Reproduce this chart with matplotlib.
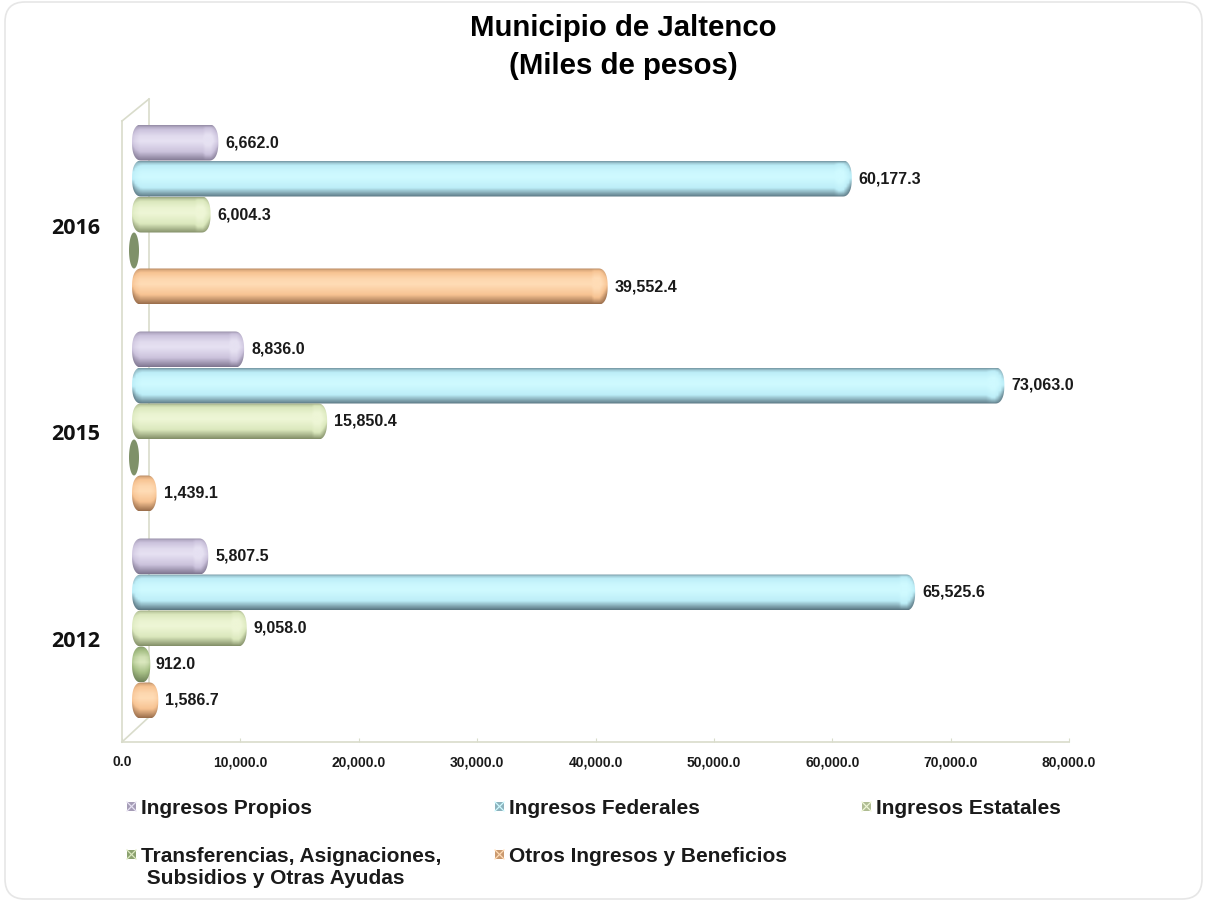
import numpy as np
import matplotlib
matplotlib.use('Agg')
import matplotlib.pyplot as plt
from matplotlib.patches import FancyBboxPatch, PathPatch, Rectangle
from matplotlib.path import Path
from matplotlib.lines import Line2D
from matplotlib.transforms import Affine2D

years = ['2012', '2015', '2016']
series_names = ['Ingresos Propios', 'Ingresos Federales', 'Ingresos Estatales',
                'Transferencias, Asignaciones,\n Subsidios y Otras Ayudas',
                'Otros Ingresos y Beneficios']
propios = [5807.5, 8836.0, 6662.0]
federales = [65525.6, 73063.0, 60177.3]
estatales = [9058.0, 15850.4, 6004.3]
transferencias = [912.0, 0.0, 0.0]
otros = [1586.7, 1439.1, 39552.4]
all_series = [propios, federales, estatales, transferencias, otros]
x_ticks = [0, 10000, 20000, 30000, 40000, 50000, 60000, 70000, 80000]

# light / mid / dark tone of each series
tones = [('#e6e1f2', '#cbc2dc', '#7f7690'),
         ('#cffaff', '#bdeef8', '#5a7682'),
         ('#eef6d6', '#dbe8bd', '#838f68'),
         ('#dbe8bf', '#a6bf85', '#6f8259'),
         ('#ffdcb6', '#f7c392', '#9a6e4c')]
flat_zero = '#7f9169'

W, H = 1208, 903
fig = plt.figure(figsize=(W / 100, H / 100), dpi=100)
fig.patch.set_facecolor('white')
plt.rcParams['font.family'] = ['Liberation Sans', 'DejaVu Sans']

# pixel coordinates, origin top left
px = Affine2D().scale(1 / W, -1 / H).translate(0, 1) + fig.transFigure

# rounded card behind everything
card = FancyBboxPatch((5, 3), W - 11, H - 6, boxstyle='round,pad=0,rounding_size=20',
                      transform=px, fc='white', ec='#e6e6e6', lw=1.2, zorder=-5)
fig.add_artist(card)

ax = fig.add_axes([122 / W, 1 - 743 / H, (1069 - 122) / W, (743 - 122) / H])
ax.patch.set_visible(False)

# the 3D look: bars sit 12px right and 10px up of the front wall
depth = Affine2D().translate(12, 10)
trans = ax.transData + depth
px_x = 80000 / (1069 - 122)
px_y = 3 / (743 - 122)
tip_r = 5.5 * px_x   # right tip beyond the value
tip_l = 2.0 * px_x   # left tip before zero
bar_h = 36 * px_y


def hex_rgb(c):
    return np.array(matplotlib.colors.to_rgb(c))


def corner_radius(value):
    return min(9 * px_x, (value + tip_r + tip_l) / 2)


def bar_image(value, tone, nx=300, ny=60):
    light, mid, dark = [hex_rgb(c) for c in tone]
    t = np.linspace(0, 1, ny)
    # vertical cylinder shading
    prof = np.interp(t, [0, .06, .3, .45, .72, .9, 1], [.7, .25, -.8, -1, -.1, .6, 1])
    img = np.zeros((ny, nx, 3))
    xs = np.linspace(-tip_l, value + tip_r, nx)
    big = value > 3000
    for i in range(nx):
        d = (value + tip_r - xs[i]) / px_x
        dl = (xs[i] + tip_l) / px_x
        # lighter strip just before the right end, dark rim on the tips
        extra = np.interp(d, [0, 2, 5, 8, 13, 16], [.9, .55, .1, -.35, -.35, 0]) if big else np.interp(d, [0, 3, 6], [.7, .2, 0])
        left = np.interp(dl, [0, 3, 8], [.8, .35, 0])
        p = prof + (extra + left) * (1 - np.abs(2 * t - 1) ** 4)
        p = np.clip(p, -1, 1)[:, None]
        img[:, i] = np.where(p < 0, mid + (light - mid) * (-p), mid + (dark - mid) * p)
    return img


def cap_outline(value, y, n=2.3):
    # cylinder outline with rounded ends
    a = corner_radius(value)
    th = np.linspace(-np.pi / 2, np.pi / 2, 40)
    cx = np.abs(np.cos(th)) ** (2 / n) * a
    cy = np.sign(np.sin(th)) * np.abs(np.sin(th)) ** (2 / n) * bar_h / 2
    xs = np.concatenate([value + tip_r - a + cx, -tip_l + a - cx[::-1]])
    ys = np.concatenate([y + cy, y + cy[::-1]])
    verts = np.column_stack([xs, ys])
    verts = np.vstack([verts, verts[0]])
    return Path(verts, closed=True)


for g in range(len(years)):
    for s, vals in enumerate(all_series):
        v = vals[g]
        y = g + (2 - s) * (36 * px_y)
        if v == 0:
            # empty series only shows the flat end of the cylinder
            th = np.linspace(0, 2 * np.pi, 60)
            pts = np.column_stack([5 * px_x * np.cos(th), y + bar_h / 2 * np.sin(th)])
            ax.add_patch(PathPatch(Path(pts), fc=flat_zero, ec='none', transform=trans, zorder=3))
            continue
        clip = PathPatch(cap_outline(v, y), fc='none', ec='none', transform=trans)
        ax.add_patch(clip)
        im = ax.imshow(bar_image(v, tones[s]), extent=(-tip_l, v + tip_r, y - bar_h / 2, y + bar_h / 2),
                       aspect='auto', origin='upper', interpolation='bilinear', zorder=3)
        im.set_transform(trans)
        im.set_clip_path(clip)
        gap = 5 if v < 1000 else 7
        ax.text(v + tip_r + gap * px_x, y + 1 * px_y, f'{v:,.1f}', transform=trans, fontsize=11.5,
                fontweight='bold', va='center', ha='left', color='#1a1a1a', zorder=4)

ax.set_xlim(0, 80000)
ax.set_ylim(-0.5, 2.5)
ax.set_xticks(x_ticks)
ax.set_xticklabels([f'{t:,.1f}' for t in x_ticks], fontsize=10, fontweight='bold', color='#1a1a1a')
ax.set_yticks(range(len(years)))
ax.set_yticklabels(years, fontsize=15.5, fontweight='bold', family=['Open Sans', 'DejaVu Sans'], color='#111111')
ax.tick_params(axis='y', length=0, pad=16)
ax.tick_params(axis='x', length=3, direction='in', color='#d9dccb', pad=9)
for side in ['top', 'right']:
    ax.spines[side].set_visible(False)
for side in ['left', 'bottom']:
    ax.spines[side].set_color('#d9dccb')
    ax.spines[side].set_linewidth(1.2)

# side wall of the 3D box
for xs, ys in [([122, 149], [122, 100]), ([149, 149], [100, 718]), ([122, 149], [743, 718])]:
    fig.add_artist(Line2D(xs, ys, transform=px, color='#d9dccb', lw=1.2, zorder=-1))

fig.text(623 / W, 1 - 28 / H, 'Municipio de Jaltenco', ha='center', va='center', fontsize=21.2, fontweight='bold')
fig.text(623 / W, 1 - 66 / H, '(Miles de pesos)', ha='center', va='center', fontsize=21.2, fontweight='bold')

# legend laid out by hand, three columns
leg_pos = [(127, 807), (495, 807), (862, 807), (127, 855), (495, 855)]
for s, name in enumerate(series_names):
    lx, ly = leg_pos[s]
    key = (hex_rgb(tones[s][1]) + hex_rgb(tones[s][2])) / 2
    fig.add_artist(Rectangle((lx, ly - 4), 9, 9, transform=px, fc=key, ec='none', zorder=1))
    # small bevelled look of the legend keys
    for xs in ([lx, lx + 9], [lx + 9, lx]):
        fig.add_artist(Line2D(xs, [ly - 4, ly + 5], transform=px, color=tones[s][0], lw=0.9, zorder=2))
    fig.text((lx + 14) / W, 1 - (ly - 8) / H, name, fontsize=15, fontweight='bold', va='top', ha='left',
             color='#1a1a1a', linespacing=1.2)

fig.savefig('out.png', dpi=100, facecolor='white')
plt.close()
